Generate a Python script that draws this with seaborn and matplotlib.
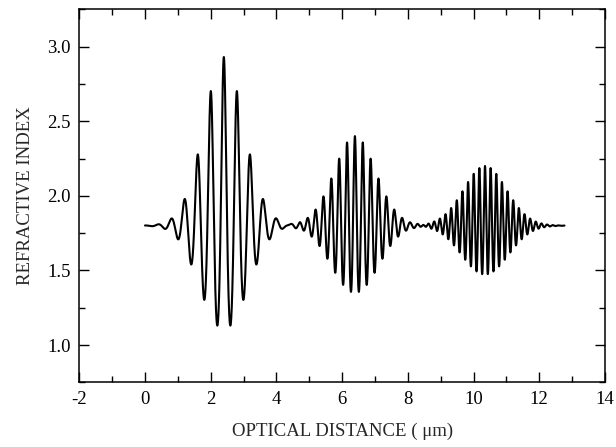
import numpy as np
import pandas as pd
import matplotlib
matplotlib.use("Agg")
import matplotlib.pyplot as plt
import seaborn as sns
from matplotlib.ticker import MultipleLocator

# Rugate profile: baseline index with three Gaussian-apodised wave packets
baseline_index = 1.8
packet_centers = [2.40, 6.39, 10.35]      # um
packet_peak_index = [2.93, 2.40, 2.20]    # index at each packet's central maximum
packet_periods = [0.40, 0.24, 0.172]      # um
packet_widths = [0.66, 0.67, 0.68]        # Gaussian sigma of the envelope, um
profile_start, profile_end = 0.0, 12.77   # um

x_ticks = [-2, 0, 2, 4, 6, 8, 10, 12, 14]
y_ticks = [1.0, 1.5, 2.0, 2.5, 3.0]

x = np.linspace(profile_start, profile_end, 6000)
log_mod = np.zeros_like(x)
for c, peak, p, w in zip(packet_centers, packet_peak_index, packet_periods, packet_widths):
    amp = np.log(peak / baseline_index)
    log_mod += amp * np.exp(-((x - c) ** 2) / (2 * w ** 2)) * np.cos(2 * np.pi * (x - c) / p)
n = baseline_index * np.exp(log_mod)

df = pd.DataFrame({"distance": x, "index": n})

sns.set_style("ticks")
plt.rcParams["font.family"] = ["Liberation Serif", "DejaVu Serif"]

fig = plt.figure(figsize=(6.16, 4.47), dpi=100)
ax = fig.add_axes([0.1287, 0.1447, 0.8533, 0.8345])

sns.lineplot(data=df, x="distance", y="index", ax=ax, color="black",
             linewidth=1.5, sort=False, estimator=None)

ax.set_xlim(-2, 14)
ax.set_ylim(0.75, 3.25)
ax.set_xticks(x_ticks)
ax.set_xticklabels([f"{t:d}" for t in x_ticks])
ax.set_yticks(y_ticks)
ax.set_yticklabels([f"{t:.1f}" for t in y_ticks])
ax.xaxis.set_minor_locator(MultipleLocator(1))
ax.yaxis.set_minor_locator(MultipleLocator(0.25))
ax.tick_params(which="both", direction="in", top=True, right=True,
               labelsize=13.5, colors="black", width=1)
ax.tick_params(which="major", length=7, pad=6)
ax.tick_params(which="minor", length=4)
for s in ax.spines.values():
    s.set_visible(True)
    s.set_linewidth(1.1)
    s.set_color("black")

ax.set_xlabel("OPTICAL DISTANCE ( \u03bcm)", fontsize=13.5, labelpad=11)
ax.set_ylabel("REFRACTIVE INDEX", fontsize=13.5, labelpad=10)

fig.savefig("out.png", dpi=100)
